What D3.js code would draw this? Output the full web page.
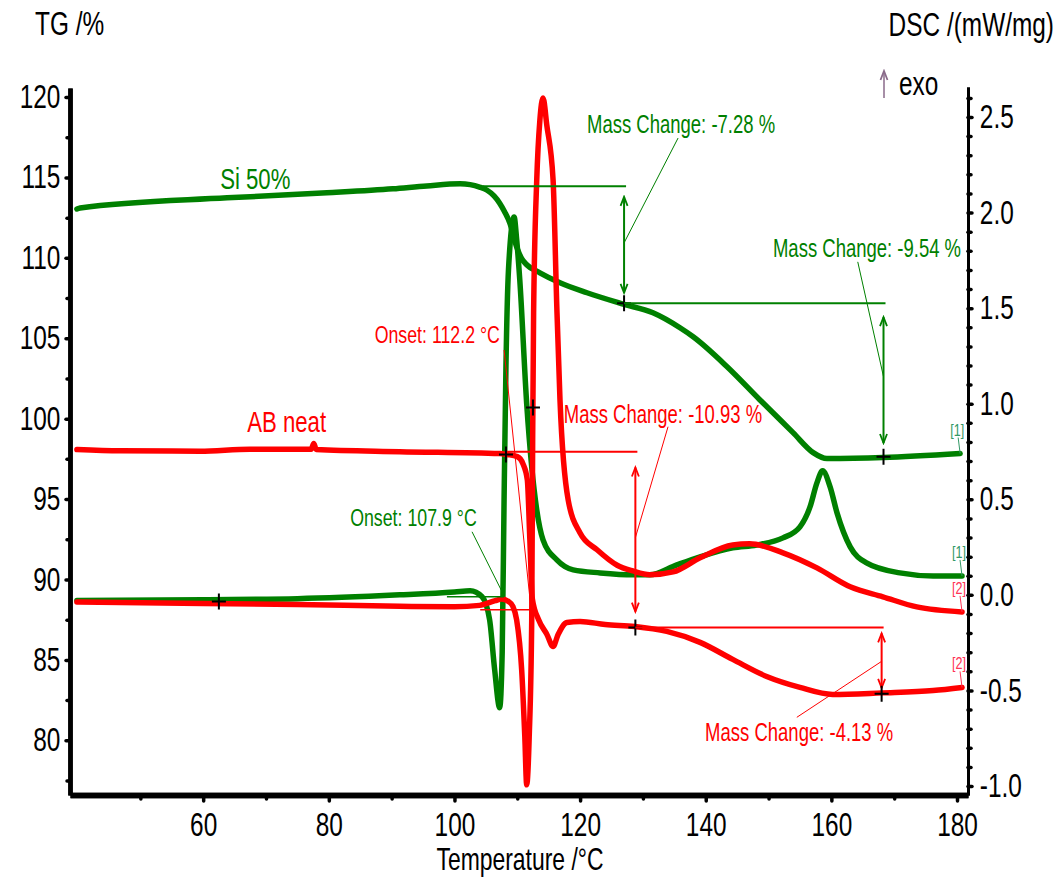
<!DOCTYPE html>
<html>
<head>
<meta charset="utf-8">
<script src="https://cdn.jsdelivr.net/npm/d3@7"></script>
<style>
    body { margin: 0; background: #ffffff; }
    text { font-family: "Liberation Sans", Arial, sans-serif; }
</style>
</head>
<body>
<div id="tga_chart"></div>
<script>

// axis ticks
let temp_ticks = [60, 80, 100, 120, 140, 160, 180];
let temp_minor = [50, 70, 90, 110, 130, 150, 170];
let tg_ticks = [80, 85, 90, 95, 100, 105, 110, 115, 120];
let tg_minor = [77.5, 82.5, 87.5, 92.5, 97.5, 102.5, 107.5, 112.5, 117.5];
let dsc_ticks = [-1.0, -0.5, 0.0, 0.5, 1.0, 1.5, 2.0, 2.5];
let dsc_minor = [-0.9, -0.8, -0.7, -0.6, -0.4, -0.3, -0.2, -0.1, 0.1, 0.2, 0.3, 0.4,
                 0.6, 0.7, 0.8, 0.9, 1.1, 1.2, 1.3, 1.4, 1.6, 1.7, 1.8, 1.9,
                 2.1, 2.2, 2.3, 2.4, 2.6];

// TG curves [temperature, mass %]
let tg_si = [[39.9, 113.04], [40.4, 113.1], [63.8, 113.73], [79.7, 114.04], [90.2, 114.29],
             [95.6, 114.47], [100.9, 114.6], [102.5, 114.55], [104.0, 114.4], [105.2, 114.2],
             [106.3, 113.85], [107.2, 113.4], [108.0, 112.85], [108.8, 112.18], [109.9, 110.68],
             [110.7, 109.95], [111.5, 109.57], [113.6, 109.07], [116.8, 108.45],
             [121.1, 107.83], [126.7, 107.14], [131.6, 106.58], [135.9, 105.65], [138.0, 105.09],
             [143.4, 103.23], [148.6, 101.18], [153.9, 99.13], [157.1, 97.89], [159.3, 97.52],
             [168.2, 97.58], [180.5, 97.83]];

let tg_ab = [[39.9, 98.08], [46.8, 98.0], [59.5, 97.98], [67.4, 98.1], [77.2, 98.1],
             [77.6, 98.45], [78.0, 98.08], [91.3, 97.95], [107.2, 97.83], [108.4, 97.77],
             [110.0, 97.64], [110.9, 97.2], [111.6, 96.2], [112.0, 92.5], [112.4, 88.8],
             [113.4, 87.5], [114.7, 86.6], [115.7, 85.84], [116.5, 86.58], [117.9, 87.33],
             [120.0, 87.39], [124.0, 87.2], [128.7, 87.08], [133.8, 86.77], [139.1, 86.09],
             [144.3, 85.03], [149.7, 83.97], [155.0, 83.29], [160.2, 82.85], [168.0, 82.95],
             [176.2, 83.1], [180.8, 83.29]];

// DSC curves [temperature, mW/mg]
let dsc_si = [[39.9, -0.03], [60.0, -0.025], [75.0, -0.02], [91.3, 0.0], [100.0, 0.015],
              [102.5, 0.021], [104.4, -0.01], [105.6, -0.131], [106.4, -0.392], [107.2, -0.59],
              [107.6, -0.3], [107.9, 0.5], [108.2, 1.2], [108.6, 1.7], [109.5, 1.977],
              [109.9, 1.86], [110.4, 1.648], [111.5, 1.0], [112.3, 0.67], [113.1, 0.445],
              [114.1, 0.288], [116.3, 0.183], [118.9, 0.131], [123.2, 0.115],
              [128.4, 0.105], [131.1, 0.105], [135.4, 0.157], [139.1, 0.199], [144.3, 0.246],
              [148.1, 0.261], [152.3, 0.298], [155.0, 0.356], [156.6, 0.46], [157.7, 0.586],
              [158.6, 0.649], [159.8, 0.565], [160.9, 0.429], [163.0, 0.251], [165.6, 0.167],
              [170.9, 0.115], [176.2, 0.099], [180.8, 0.099]];

let dsc_ab = [[39.9, -0.037], [60.0, -0.045], [75.0, -0.05], [91.3, -0.06], [100.0, -0.062],
              [104.0, -0.055], [106.5, -0.03], [107.5, -0.022], [108.6, -0.035], [109.3, -0.06],
              [109.9, -0.131], [110.7, -0.392], [111.2, -0.743], [111.5, -0.994], [111.9, -0.743],
              [112.3, -0.131], [112.45, 0.811], [112.6, 1.475], [113.1, 2.171], [113.6, 2.484],
              [114.1, 2.6], [114.7, 2.458], [115.7, 2.171], [116.3, 1.5], [116.8, 1.02],
              [118.1, 0.497], [120.0, 0.324], [122.7, 0.236], [125.9, 0.155], [128.4, 0.125],
              [131.1, 0.105], [134.8, 0.12], [139.1, 0.194], [144.3, 0.261], [147.0, 0.267],
              [152.3, 0.22], [157.7, 0.141], [163.0, 0.042], [168.2, -0.01], [173.6, -0.063],
              [180.8, -0.089]];

// mass change steps: temperatures and TG levels
let step_si_temps = [104.5, 127.0, 168.3];
let step_si_levels = [114.45, 107.17, 97.63];
let step_ab_temps = [108.2, 128.8, 168.0];
let step_ab_levels = [97.95, 87.02, 82.89];

// DSC onsets
let onset_si = 107.9;
let onset_ab = 112.2;

let green = "#008000";
let red = "#ff0000";
let x_stretch = 0.74;

function add_text(parent, x, y, str, size, color, anchor) {
    return parent.append("text")
        .attr("transform", "translate(" + x + "," + y + ") scale(" + x_stretch + ",1)")
        .attr("text-anchor", anchor || "start")
        .style("font-size", size + "px")
        .style("fill", color)
        .text(str);
}

function add_cross(parent, px, py) {
    parent.append("path")
        .attr("d", "M" + (px - 7) + "," + py + "H" + (px + 7) + "M" + px + "," + (py - 8) + "V" + (py + 8))
        .attr("stroke", "black")
        .attr("stroke-width", 2)
        .attr("fill", "none");
}

function style_axis(g, width) {
    g.select(".domain").attr("stroke", "black").attr("stroke-width", width);
    g.selectAll(".tick line").attr("stroke", "black").attr("stroke-width", 3.5).attr("stroke-linecap", "round");
    g.selectAll(".tick text")
        .attr("transform", "scale(" + x_stretch + ",1)")
        .style("font-size", "33px")
        .style("font-family", "'Liberation Sans', Arial, sans-serif")
        .style("fill", "black");
}

function draw_chart() {

    let chart_width = 1058;
    let chart_height = 882;

    let plot_left = 70;
    let plot_right = 968;
    let plot_top = 88;
    let plot_bottom = 795;

    let svg = d3.select("#tga_chart")
                .append("svg")
                .attr("width", chart_width)
                .attr("height", chart_height);

    let defs = svg.append("defs");
    [["arrow_green", green], ["arrow_red", red], ["arrow_exo", "#8a6a8a"]].forEach(function(m) {
        defs.append("marker")
            .attr("id", m[0])
            .attr("viewBox", "-10 -5 12 10")
            .attr("markerUnits", "userSpaceOnUse")
            .attr("markerWidth", 12)
            .attr("markerHeight", 10)
            .attr("refX", 0)
            .attr("refY", 0)
            .attr("orient", "auto-start-reverse")
            .append("path")
            .attr("d", "M-9,-3.5L0,0L-9,3.5")
            .attr("fill", "none")
            .attr("stroke", m[1])
            .attr("stroke-width", 1.8);
    });

    let x_scale = d3.scaleLinear().domain([38.8, 181.75]).range([plot_left, plot_right]);
    let tg_scale = d3.scaleLinear().domain([76.6, 120.56]).range([plot_bottom, plot_top]);
    let dsc_scale = d3.scaleLinear().domain([-1.047, 2.657]).range([plot_bottom, plot_top - 1]);

    // axes
    let x_minor_axis = svg.append("g")
        .attr("transform", "translate(0," + plot_bottom + ")")
        .call(d3.axisBottom(x_scale).tickValues(temp_minor).tickSize(4).tickSizeOuter(0).tickFormat(""));
    style_axis(x_minor_axis, 5.5);

    let x_axis = svg.append("g")
        .attr("transform", "translate(0," + plot_bottom + ")")
        .call(d3.axisBottom(x_scale).tickValues(temp_ticks).tickSize(6).tickPadding(12).tickSizeOuter(0)
              .tickFormat(d3.format("d")));
    style_axis(x_axis, 5.5);

    let tg_minor_axis = svg.append("g")
        .attr("transform", "translate(" + plot_left + ",0)")
        .call(d3.axisLeft(tg_scale).tickValues(tg_minor).tickSize(3).tickSizeOuter(0).tickFormat(""));
    style_axis(tg_minor_axis, 4.5);

    let tg_axis = svg.append("g")
        .attr("transform", "translate(" + plot_left + ",0)")
        .call(d3.axisLeft(tg_scale).tickValues(tg_ticks).tickSize(4).tickPadding(9).tickSizeOuter(0)
              .tickFormat(d3.format("d")));
    style_axis(tg_axis, 4.5);

    let dsc_minor_axis = svg.append("g")
        .attr("transform", "translate(" + plot_right + ",0)")
        .call(d3.axisRight(dsc_scale).tickValues(dsc_minor).tickSize(3).tickSizeOuter(0).tickFormat(""));
    style_axis(dsc_minor_axis, 3);

    let dsc_axis = svg.append("g")
        .attr("transform", "translate(" + plot_right + ",0)")
        .call(d3.axisRight(dsc_scale).tickValues(dsc_ticks).tickSize(4).tickPadding(12).tickSizeOuter(0)
              .tickFormat(d3.format(".1f")));
    style_axis(dsc_axis, 3);
    dsc_axis.selectAll(".tick text").text(function(d) { return d3.format(".1f")(d).replace("−", "-"); });

    // titles
    add_text(svg, 35, 35, "TG /%", 33, "black");
    add_text(svg, 1054, 36, "DSC /(mW/mg)", 33, "black", "end");
    svg.append("line")
        .attr("x1", 884).attr("x2", 884)
        .attr("y1", 98).attr("y2", 71)
        .attr("stroke", "#8a6a8a").attr("stroke-width", 1.5)
        .attr("marker-end", "url(#arrow_exo)");
    add_text(svg, 899, 95, "exo", 33, "black");
    add_text(svg, 520, 870, "Temperature /°C", 31, "black", "middle");

    // curves
    let tg_line = d3.line()
        .x(function(d) { return x_scale(d[0]); })
        .y(function(d) { return tg_scale(d[1]); })
        .curve(d3.curveMonotoneX);

    let dsc_line = d3.line()
        .x(function(d) { return x_scale(d[0]); })
        .y(function(d) { return dsc_scale(d[1]); })
        .curve(d3.curveMonotoneX);

    let curves = [[tg_si, tg_line, green], [dsc_si, dsc_line, green],
                  [tg_ab, tg_line, red], [dsc_ab, dsc_line, red]];

    curves.forEach(function(c) {
        svg.append("path")
            .datum(c[0])
            .attr("d", c[1])
            .attr("fill", "none")
            .attr("stroke", c[2])
            .attr("stroke-width", 5.5)
            .attr("stroke-linejoin", "round")
            .attr("stroke-linecap", "round");
    });

    // mass change steps
    function draw_steps(temps, levels, color, marker, labels) {
        for (let i = 0; i < levels.length - 1; i++) {
            let x0 = x_scale(temps[i]);
            let x1 = x_scale(temps[i + 1]);
            let y0 = tg_scale(levels[i]);
            let y1 = tg_scale(levels[i + 1]);
            let gap = (y1 - y0) * 0.09;

            svg.append("line")
                .attr("x1", x0).attr("x2", x1 + 2)
                .attr("y1", y0).attr("y2", y0)
                .attr("stroke", color).attr("stroke-width", 2);

            svg.append("line")
                .attr("x1", x1).attr("x2", x1)
                .attr("y1", y0 + gap).attr("y2", y1 - gap)
                .attr("stroke", color).attr("stroke-width", 2)
                .attr("marker-start", "url(#" + marker + ")")
                .attr("marker-end", "url(#" + marker + ")");

            add_cross(svg, x1, y1);

            let change = (levels[i + 1] - levels[i]).toFixed(2);
            let lab = labels[i];
            add_text(svg, x_scale(lab[0]), tg_scale(lab[1]), "Mass Change: " + change + " %", 25, color);

            svg.append("line")
                .attr("x1", x_scale(lab[2])).attr("y1", tg_scale(lab[3]))
                .attr("x2", x_scale(lab[4])).attr("y2", tg_scale(lab[5]))
                .attr("stroke", color).attr("stroke-width", 1);
        }
    }

    draw_steps(step_si_temps, step_si_levels, green, "arrow_green",
               [[121.1, 117.77, 135.6, 117.45, 127.0, 110.93],
                [150.7, 110.06, 164.2, 109.75, 168.3, 102.61]]);

    draw_steps(step_ab_temps, step_ab_levels, red, "arrow_red",
               [[117.4, 99.75, 134.0, 99.5, 128.8, 92.6],
                [139.9, 79.94, 154.5, 81.43, 168.0, 84.91]]);

    // onsets
    svg.append("line")
        .attr("x1", x_scale(98.8)).attr("x2", x_scale(onset_si))
        .attr("y1", dsc_scale(-0.01)).attr("y2", dsc_scale(-0.01))
        .attr("stroke", green).attr("stroke-width", 1.5);
    svg.append("line")
        .attr("x1", x_scale(102.8)).attr("y1", dsc_scale(0.33))
        .attr("x2", x_scale(onset_si)).attr("y2", dsc_scale(-0.005))
        .attr("stroke", green).attr("stroke-width", 1);
    add_text(svg, x_scale(83.4), dsc_scale(0.361), "Onset: " + onset_si + " °C", 24, green);

    svg.append("line")
        .attr("x1", x_scale(104.1)).attr("x2", x_scale(onset_ab - 0.2))
        .attr("y1", dsc_scale(-0.078)).attr("y2", dsc_scale(-0.078))
        .attr("stroke", red).attr("stroke-width", 1.5);
    svg.append("line")
        .attr("x1", x_scale(107.9)).attr("y1", dsc_scale(1.281))
        .attr("x2", x_scale(onset_ab)).attr("y2", dsc_scale(-0.078))
        .attr("stroke", red).attr("stroke-width", 1);
    add_text(svg, x_scale(87.3), dsc_scale(1.318), "Onset: " + onset_ab + " °C", 24, red);

    // other markers
    add_cross(svg, x_scale(62.5), dsc_scale(-0.035));
    add_cross(svg, x_scale(112.5), dsc_scale(0.98));
    add_cross(svg, x_scale(step_ab_temps[0]), tg_scale(97.77));

    // sample labels
    add_text(svg, x_scale(62.7), tg_scale(114.25), "Si 50%", 30, green);
    add_text(svg, x_scale(67.0), tg_scale(99.2), "AB neat", 30, red);

    // curve end tags
    let tags = [[tg_si, tg_scale, "[1]", "#339966"], [dsc_si, dsc_scale, "[1]", "#339966"],
                [dsc_ab, dsc_scale, "[2]", "#ff3355"], [tg_ab, tg_scale, "[2]", "#ff3355"]];
    tags.forEach(function(t) {
        let last = t[0][t[0].length - 1];
        let px = x_scale(last[0]);
        let py = t[1](last[1]);
        add_text(svg, px - 3, py - 18, t[2], 17, t[3], "middle");
        svg.append("line")
            .attr("x1", px - 2).attr("y1", py - 16)
            .attr("x2", px).attr("y2", py)
            .attr("stroke", t[3]).attr("stroke-width", 1);
    });
}

draw_chart();

</script>
</body>
</html>
